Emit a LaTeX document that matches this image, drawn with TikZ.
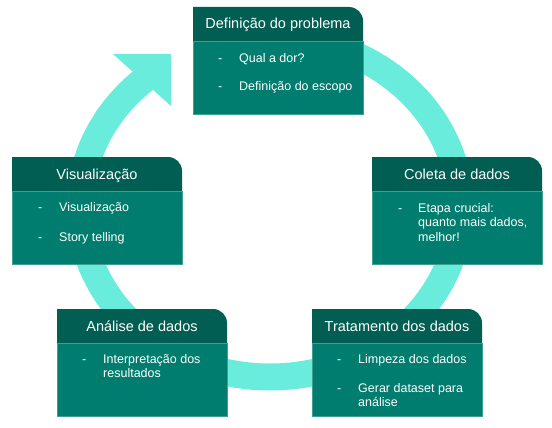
\documentclass[tikz,border=0pt]{standalone}
\usepackage{fontspec}
\setmainfont{Liberation Sans}
\definecolor{ringc}{RGB}{106,236,221}
\definecolor{headc}{RGB}{0,94,82}
\definecolor{bodyc}{RGB}{0,125,110}
\definecolor{linec}{RGB}{60,160,145}
\tikzset{
  titletext/.style={text=white,font=\fontsize{14.5}{17}\selectfont,inner sep=0pt,anchor=base},
  itemtext/.style={text=white,font=\fontsize{12.5}{14.5}\selectfont,inner sep=0pt,anchor=base west},
  ringline/.style={draw=ringc,line width=27pt},
}
\newcommand\procbox[4]{%
  \fill[bodyc] (#2,#3+34) -- (#2+170,#3+34) -- (#2+170,#3+107) -- (#2,#3+107) -- cycle;
  \draw[linec,line width=0.7pt] (#2,#3+34) -- (#2,#3+107) -- (#2+170,#3+107) -- (#2+170,#3+34);
  \fill[headc] (#2,#3+34) -- (#2,#3) -- (#2+156,#3) arc[start angle=90,end angle=0,radius=14pt] -- (#2+170,#3+34) -- cycle;
  \draw[linec,line width=0.9pt] (#2,#3+34) -- (#2+170,#3+34);
  \node[titletext] (#1) at (#2+85,#3+22) {#4};
}
\newcommand\itemline[4]{% name, x, baseline y, text
  \node[itemtext] (#1) at (#2,#3) {#4};
}
\begin{document}
\begin{tikzpicture}[x=1pt,y=-1pt]
\useasboundingbox (0,0) rectangle (552,428);
% cycle arrow
\draw[ringline] plot[domain=90:-230,samples=240] ({270+190*cos(\x)},{207-170*sin(\x)});
\fill[ringc] (113,54) -- (171,54) -- (171,106) -- cycle;
% boxes
\procbox{def}{193}{7}{Definição do problema}
\itemline{def-d1}{218}{63}{-}
\itemline{def-t1}{239}{63}{Qual a dor?}
\itemline{def-d2}{218}{91}{-}
\itemline{def-t2}{239}{91}{Definição do escopo}

\procbox{vis}{12}{157}{Visualização}
\itemline{vis-d1}{38}{211}{-}
\itemline{vis-t1}{59}{211}{Visualização}
\itemline{vis-d2}{38}{241}{-}
\itemline{vis-t2}{59}{241}{Story telling}

\procbox{col}{372}{157}{Coleta de dados}
\itemline{col-d1}{398}{212}{-}
\itemline{col-t1}{418}{212}{Etapa crucial:}
\itemline{col-t2}{418}{226.5}{quanto mais dados,}
\itemline{col-t3}{418}{241}{melhor!}

\procbox{ana}{57}{309}{Análise de dados}
\itemline{ana-d1}{82}{363}{-}
\itemline{ana-t1}{103}{363}{Interpretação dos}
\itemline{ana-t2}{103}{377}{resultados}

\procbox{tra}{312}{309}{Tratamento dos dados}
\itemline{tra-d1}{337}{363}{-}
\itemline{tra-t1}{358}{363}{Limpeza dos dados}
\itemline{tra-d2}{337}{392}{-}
\itemline{tra-t2}{358}{392}{Gerar dataset para}
\itemline{tra-t3}{358}{406}{análise}
\end{tikzpicture}
\end{document}
